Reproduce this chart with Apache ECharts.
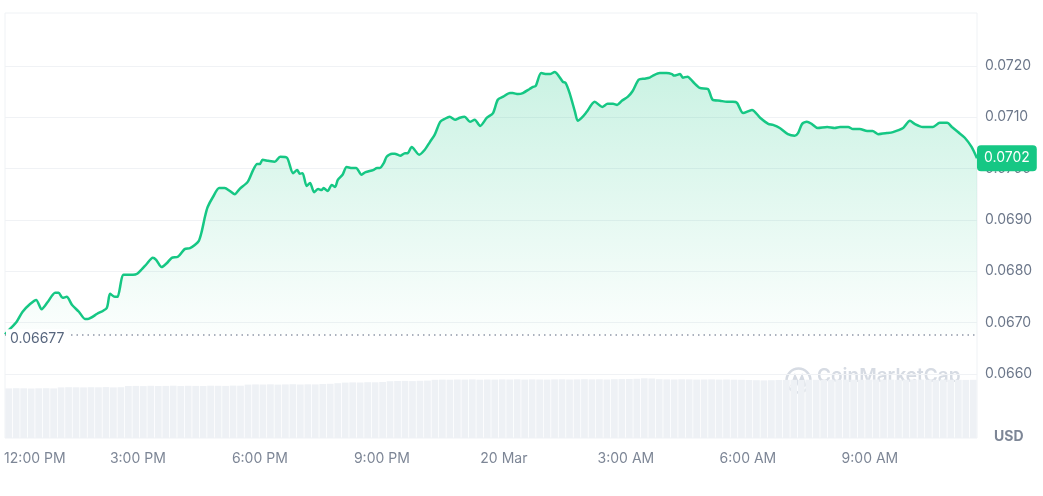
<!DOCTYPE html>
<html>
<head>
<meta charset="utf-8">
<script src="https://cdn.jsdelivr.net/npm/echarts@6/dist/echarts.min.js"></script>
<style>
  html, body { margin: 0; padding: 0; background: #ffffff; }
  #chart { width: 1043px; height: 496px; }
</style>
</head>
<body>
<div id="chart"></div>
<script>
// ---- Data ----
// minutes since 12:00 PM (19 Mar)
const minutes = [-16,-9,1,10,21,30,38,47,58,63,69,75,83,93,102,106,120,134,139,146,150,159,173,179,186,193,202,207,215,223,230,239,249,257,264,270,274,279,283,291,300,308,316,323,330,342,350,356,360,364,372,382,390,400,409,415,419,423,429,434,440,446,451,454,460,466,471,475,482,488,496,502,510,516,527,533,537,543,547,555,559,567,574,578,584,595,603,611,618,626,633,640,648,655,662,670,677,685,695,704,711,719,729,733,741,748,758,763,767,775,783,788,795,800,807,811,817,825,829,835,842,854,865,873,881,887,894,903,910,919,928,935,940,950,960,968,971,980,984,991,999,1009,1021,1028,1039,1049,1058,1064,1073,1086,1098,1110,1117,1127,1139,1149,1154,1160,1167,1174,1183,1197,1208,1216,1228,1235,1245,1256,1264,1272,1285,1294,1309,1319,1326,1338,1353,1363,1374,1381,1390,1400,1410,1418];
const prices = [0.06677,0.06687,0.06701,0.06721,0.06736,0.06744,0.06726,0.06740,0.06758,0.06758,0.06748,0.06750,0.06734,0.06721,0.06707,0.06707,0.06717,0.06728,0.06756,0.06750,0.06750,0.06793,0.06793,0.06795,0.06804,0.06814,0.06826,0.06822,0.06808,0.06816,0.06826,0.06828,0.06843,0.06845,0.06851,0.06859,0.06876,0.06906,0.06925,0.06945,0.06962,0.06962,0.06956,0.06950,0.06960,0.06974,0.06997,0.07009,0.07009,0.07017,0.07015,0.07013,0.07023,0.07021,0.06991,0.06997,0.06990,0.06991,0.06966,0.06972,0.06954,0.06960,0.06958,0.06962,0.06956,0.06968,0.06964,0.06978,0.06988,0.07003,0.07001,0.07001,0.06988,0.06993,0.06997,0.07001,0.07001,0.07011,0.07023,0.07029,0.07029,0.07025,0.07030,0.07030,0.07042,0.07027,0.07036,0.07052,0.07066,0.07091,0.07097,0.07101,0.07095,0.07099,0.07101,0.07091,0.07095,0.07083,0.07099,0.07108,0.07134,0.07140,0.07147,0.07147,0.07145,0.07147,0.07155,0.07159,0.07161,0.07186,0.07184,0.07184,0.07188,0.07182,0.07169,0.07167,0.07147,0.07110,0.07093,0.07099,0.07110,0.07130,0.07120,0.07126,0.07126,0.07124,0.07132,0.07140,0.07151,0.07173,0.07175,0.07177,0.07181,0.07186,0.07186,0.07184,0.07181,0.07184,0.07177,0.07179,0.07169,0.07157,0.07155,0.07134,0.07132,0.07130,0.07130,0.07128,0.07108,0.07114,0.07099,0.07087,0.07085,0.07079,0.07067,0.07064,0.07069,0.07087,0.07091,0.07087,0.07079,0.07081,0.07079,0.07081,0.07081,0.07077,0.07077,0.07073,0.07073,0.07067,0.07069,0.07071,0.07079,0.07093,0.07087,0.07081,0.07081,0.07089,0.07089,0.07081,0.07071,0.07060,0.07042,0.07020];
// 24h volume bars (USD millions)
const volumes = [49.6,49.8,49.7,49.5,49.7,49.8,49.6,
  50.6,50.8,50.7,50.6,50.8,50.7,50.9,50.6,50.8,
  52.0,52.1,51.9,52.2,52.0,52.1,52.3,52.0,52.2,52.1,52.0,52.3,52.2,52.1,52.4,52.3,
  53.4,53.6,53.5,53.7,53.4,53.6,53.8,53.5,53.7,53.6,54.0,54.2,54.8,
  55.4,55.6,55.5,55.8,55.7,56.0,
  56.8,57.0,57.1,56.9,57.2,57.4,
  58.2,58.4,58.3,58.5,58.4,58.6,58.3,58.5,58.4,58.6,58.5,58.7,58.4,58.6,58.5,58.4,58.6,58.7,58.5,58.6,58.8,58.6,58.7,58.5,58.8,58.9,59.0,59.2,
  59.7,59.5,
  58.8,58.6,58.5,58.7,58.6,58.4,58.5,58.6,58.4,58.5,58.3,58.2,58.0,57.8,
  57.6,57.8,
  58.0,58.1,58.2,58.0,58.3,58.2,58.1,58.3,58.2,58.4,58.3,58.2,58.4,58.5,58.3,58.4,58.2,58.3,58.5,58.4,58.3,58.2,58.4,58.3,58.2,58.1,58.2];
const tickMinutes = [0,180,360,540,720,900,1080,1260];
const tickLabels = ['12:00 PM','3:00 PM','6:00 PM','9:00 PM','20 Mar','3:00 AM','6:00 AM','9:00 AM'];
const priceTicks = [0.0660,0.0670,0.0680,0.0690,0.0700,0.0710,0.0720];
const openPrice = 0.06677;
const lastPrice = 0.0702;
const xMin = -16, xMax = 1418;

const GREEN = '#16c784';
const FONT = 'Inter, "Noto Sans", sans-serif';

const chart = echarts.init(document.getElementById('chart'), null, { renderer: 'canvas' });

const lineData = minutes.map((m, i) => [m, prices[i]]);
const volCats = volumes.map((v, i) => i);

chart.setOption({
  animation: false,
  backgroundColor: '#ffffff',
  textStyle: { fontFamily: FONT },
  grid: [
    { left: 5, right: 66, top: 13, bottom: 58, show: true, borderColor: '#eff2f5', borderWidth: 1, backgroundColor: 'transparent' },
    { left: 5, right: 66, top: 13, bottom: 58 }
  ],
  xAxis: [
    {
      type: 'value', gridIndex: 0, min: xMin, max: xMax,
      axisLine: { show: false }, axisTick: { show: false }, splitLine: { show: false },
      axisLabel: {
        customValues: tickMinutes,
        margin: 14,
        color: '#7d8696',
        fontSize: 14,
        fontFamily: FONT,
        formatter: function (v) {
          const i = tickMinutes.indexOf(v);
          const t = i >= 0 ? tickLabels[i] : '';
          return i === 0 ? '{first|' + t + '}' : t;
        },
        rich: { first: { padding: [0, 0, 0, 38], color: '#7d8696', fontSize: 14, fontFamily: FONT } }
      }
    },
    {
      type: 'category', gridIndex: 1, data: volCats, show: false, boundaryGap: true
    }
  ],
  yAxis: [
    {
      type: 'value', gridIndex: 0, position: 'right', min: 0.06475, max: 0.07303,
      axisLine: { show: false },
      axisTick: { show: false, customValues: priceTicks },
      splitLine: { show: true, lineStyle: { color: '#f0f2f5', width: 1 } },
      axisLabel: {
        customValues: priceTicks,
        margin: 8,
        color: '#6c778a',
        fontSize: 14,
        fontFamily: FONT,
        formatter: function (v) { return v.toFixed(4); }
      }
    },
    {
      type: 'value', gridIndex: 1, min: 0, max: 425, show: false, splitLine: { show: false }
    }
  ],
  graphic: [
    {
      type: 'group', left: 784, top: 366, silent: true,
      children: [
        { type: 'circle', shape: { cx: 13, cy: 13, r: 12 }, style: { fill: 'none', stroke: '#d6dbe3', lineWidth: 2.5 } },
        { type: 'polyline', shape: { points: [[6, 19], [9.5, 9], [13, 17], [16.5, 9], [20, 19]] }, style: { fill: 'none', stroke: '#d6dbe3', lineWidth: 2.5 } }
      ]
    },
    {
      type: 'text', left: 817, top: 367, silent: true,
      style: { text: 'CoinMarketCap', fill: '#d6dbe3', font: '600 19px ' + FONT }
    },
    {
      type: 'text', left: 994, top: 430, silent: true,
      style: { text: 'USD', fill: '#7d8696', font: 'bold 14px ' + FONT }
    }
  ],
  series: [
    {
      type: 'bar', xAxisIndex: 1, yAxisIndex: 1, data: volumes, z: 1,
      barCategoryGap: '10%',
      itemStyle: { color: '#eef1f5' },
      silent: true
    },
    {
      type: 'line', xAxisIndex: 0, yAxisIndex: 0, data: lineData, z: 3,
      clip: false,
      showSymbol: false, symbol: 'none', smooth: 0.25,
      lineStyle: { color: GREEN, width: 2.5 },
      areaStyle: {
        origin: openPrice,
        color: new echarts.graphic.LinearGradient(0, 0, 0, 1, [
          { offset: 0, color: 'rgba(22,199,132,0.32)' },
          { offset: 1, color: 'rgba(22,199,132,0.02)' }
        ])
      },
      markLine: {
        silent: true,
        symbol: ['none', 'none'],
        data: [
          [
            {
              coord: [xMin, openPrice],
              lineStyle: { color: '#8f98a8', type: [1.5, 4], width: 1.5 },
              label: {
                show: true, position: 'insideStartBottom', distance: [1, -5],
                formatter: String(openPrice), color: '#58667e', fontSize: 14, fontFamily: FONT,
                backgroundColor: '#ffffff', padding: [2, 4, 2, 4]
              }
            },
            { coord: [xMax, openPrice] }
          ],
          [
            {
              coord: [xMin, lastPrice],
              lineStyle: { color: 'rgba(0,0,0,0)', width: 1, type: 'solid' },
              label: {
                show: true, position: 'end', distance: 0,
                formatter: lastPrice.toFixed(4), color: '#ffffff', fontSize: 14, fontFamily: FONT,
                backgroundColor: GREEN, borderRadius: 4, padding: [6, 7, 6, 7]
              }
            },
            { coord: [xMax, lastPrice] }
          ]
        ]
      }
    }
  ]
});
</script>
</body>
</html>
